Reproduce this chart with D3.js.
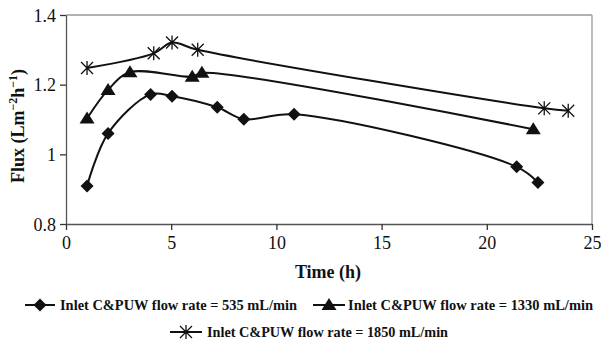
<!DOCTYPE html>
<html><head><meta charset="utf-8">
<script src="https://cdn.jsdelivr.net/npm/d3@7/dist/d3.min.js"></script>
<style>body{margin:0;background:#fff}svg{display:block}</style>
</head><body><svg id="c" width="601" height="343"></svg>
<script>
const xTicks = [0,5,10,15,20,25];
const yTicks = [0.8,1,1.2,1.4];
const yTickLabels = ["0.8","1","1.2","1.4"];
const seriesNames = ["Inlet C&PUW flow rate = 535 mL/min","Inlet C&PUW flow rate = 1330 mL/min","Inlet C&PUW flow rate = 1850 mL/min"];
const s535x = [1,2,4.02,5.04,7.19,8.45,10.84,21.42,22.43];
const s535y = [0.909,1.06,1.172,1.167,1.135,1.101,1.115,0.964,0.919];
const s1330x = [1,2,3.04,6.0,6.46,22.21];
const s1330y = [1.103,1.185,1.236,1.223,1.234,1.072];
const s1850x = [1,4.17,5.04,6.26,22.73,23.87];
const s1850y = [1.248,1.29,1.321,1.3,1.132,1.125];

const FF = '"Liberation Serif"';
const svg = d3.select("#c");
const L=66,R=592,T=15,B=224;
const x = d3.scaleLinear().domain([0,25]).range([L,R]);
const y = d3.scaleLinear().domain([0.8,1.4]).range([B,T]);

// frame
svg.append("line").attr("x1",L).attr("x2",R).attr("y1",T).attr("y2",T).attr("stroke","#999").attr("stroke-width",1.3);
svg.append("line").attr("x1",R).attr("x2",R).attr("y1",T).attr("y2",B).attr("stroke","#999").attr("stroke-width",1.3);

const xa = svg.append("g").attr("transform",`translate(0,${B})`)
  .call(d3.axisBottom(x).tickValues(xTicks).tickSize(6).tickSizeOuter(0).tickPadding(4));
const ya = svg.append("g").attr("transform",`translate(${L},0)`)
  .call(d3.axisLeft(y).tickValues(yTicks).tickFormat((d,i)=>yTickLabels[i]).tickSize(6).tickSizeOuter(0).tickPadding(4));
xa.attr("font-family",null); ya.attr("font-family",null);
[xa,ya].forEach(a=>{
  a.selectAll("path").attr("stroke","#555").attr("stroke-width",1.3);
  a.selectAll("line").attr("stroke","#333").attr("stroke-width",1.3);
  a.selectAll("text").style("font-family",FF).style("font-size","18px").attr("fill","#111");
});
xa.selectAll("text").attr("dy","0.85em");
ya.selectAll("text").attr("dy","0.35em");

// titles
svg.append("text").attr("x",328).attr("y",278).attr("text-anchor","middle")
  .style("font-family",FF).style("font-weight","bold").style("font-size","18px").attr("fill","#111").text("Time (h)");
const yt = svg.append("text").attr("transform","translate(24,126) rotate(-90)").attr("text-anchor","middle")
  .style("font-family",FF).style("font-weight","bold").style("font-size","18px").attr("fill","#111");
yt.append("tspan").text("Flux (Lm");
yt.append("tspan").style("font-size","12px").attr("dy",-7).text("\u22122");
yt.append("tspan").attr("dy",7).text("h");
yt.append("tspan").style("font-size","12px").attr("dy",-7).text("\u22121");
yt.append("tspan").attr("dy",7).text(")");

const line = d3.line().x(d=>x(d[0])).y(d=>y(d[1])).curve(d3.curveCatmullRom.alpha(0.5));
const data = [d3.zip(s535x,s535y), d3.zip(s1330x,s1330y), d3.zip(s1850x,s1850y)];

function marker(g,type,cx,cy){
  if(type===0){
    g.append("path").attr("d",`M${cx},${cy-6.5}L${cx+6.5},${cy}L${cx},${cy+6.5}L${cx-6.5},${cy}Z`).attr("fill","#111");
  } else if(type===1){
    g.append("path").attr("d",`M${cx},${cy-7}L${cx+7.5},${cy+5}L${cx-7.5},${cy+5}Z`).attr("fill","#111");
  } else {
    const r=6;
    g.append("path").attr("d",`M${cx-r},${cy-r}L${cx+r},${cy+r}M${cx-r},${cy+r}L${cx+r},${cy-r}M${cx},${cy-r-1}L${cx},${cy+r+1}`)
      .attr("stroke","#111").attr("stroke-width",1.3).attr("fill","none");
  }
}

data.forEach((d,i)=>{
  svg.append("path").datum(d).attr("d",line).attr("fill","none").attr("stroke","#111").attr("stroke-width",2);
  const g = svg.append("g");
  d.forEach(p=>marker(g,i,x(p[0]),y(p[1])));
});

// legend
const leg = [{x1:25,x2:55,tx:60,tw:237,y:305},{x1:313,x2:345,tx:348,tw:245,y:305},{x1:170,x2:202,tx:207,tw:241,y:332}];
leg.forEach((l,i)=>{
  svg.append("line").attr("x1",l.x1).attr("x2",l.x2).attr("y1",l.y).attr("y2",l.y).attr("stroke","#111").attr("stroke-width",2);
  marker(svg,i,(l.x1+l.x2)/2,l.y);
  svg.append("text").attr("x",l.tx).attr("y",l.y+5).style("font-family",FF).style("font-weight","bold").style("font-size","15px")
    .attr("fill","#111").attr("textLength",l.tw).attr("lengthAdjust","spacingAndGlyphs").text(seriesNames[i]);
});
</script></body></html>
